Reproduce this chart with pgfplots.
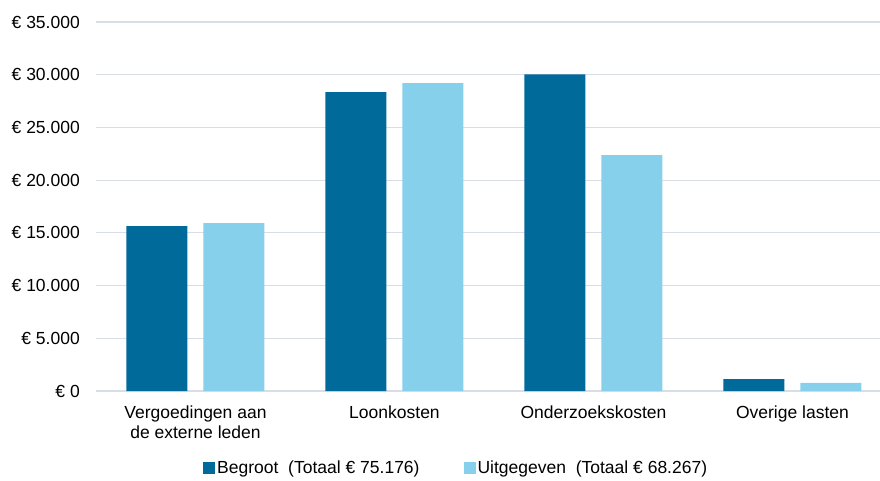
\documentclass[border=0pt]{standalone}
\usepackage{pgfplots}
\pgfplotsset{compat=1.18}
\usepackage{fontspec}
\setmainfont{Liberation Sans}
\definecolor{begroot}{RGB}{0,106,155}
\definecolor{uitg}{RGB}{135,208,235}
\definecolor{gridc}{RGB}{217,222,230}

\begin{document}
\begin{tikzpicture}
\path[use as bounding box] (-96pt,-89pt) rectangle (784pt,391pt);
\begin{axis}[
    anchor=south west,
    scale only axis, width=784pt, height=369pt,
    xmin=-0.5, xmax=3.44, ymin=0, ymax=35000,
    ybar=16pt, bar width=61pt,
    axis x line*=bottom, axis y line*=left,
    x axis line style={gridc, line width=1.5pt, -},
    y axis line style={draw=none},
    ymajorgrids, grid style={gridc, line width=1.2pt},
    major tick length=0pt,
    scaled y ticks=false,
    ytick={0,5000,10000,15000,20000,25000,30000,35000},
    yticklabels={€ 0,€ 5.000,€ 10.000,€ 15.000,€ 20.000,€ 25.000,€ 30.000,€ 35.000},
    yticklabel style={anchor=east, inner sep=0pt, xshift=-16pt, font=\fontsize{17.5}{20}\selectfont},
    xtick={0,1,2,3},
    xticklabels={{Vergoedingen aan\\de externe leden},Loonkosten,Onderzoekskosten,Overige lasten},
    xticklabel style={anchor=north, inner sep=0pt, yshift=-15pt, align=center, font=\fontsize{17.5}{20}\selectfont},
    legend columns=2,
    legend style={at={(0.1365,-0.2087)}, anchor=west, draw=none, inner sep=0pt,
        font=\fontsize{17.5}{20}\selectfont,
        /tikz/every even column/.append style={column sep=42pt}},
    legend image code/.code={\fill[#1, draw=none] (0pt,-6pt) rectangle (12pt,6pt);},
]
\addplot[fill=begroot, draw=none] coordinates {(0,15650) (1,28360) (2,30030) (3,1136)};
\addplot[fill=uitg, draw=none] coordinates {(0,15920) (1,29200) (2,22380) (3,767)};
\legend{Begroot\ \ (Totaal € 75.176), Uitgegeven\ \ (Totaal € 68.267)}
\end{axis}
\end{tikzpicture}
\end{document}
